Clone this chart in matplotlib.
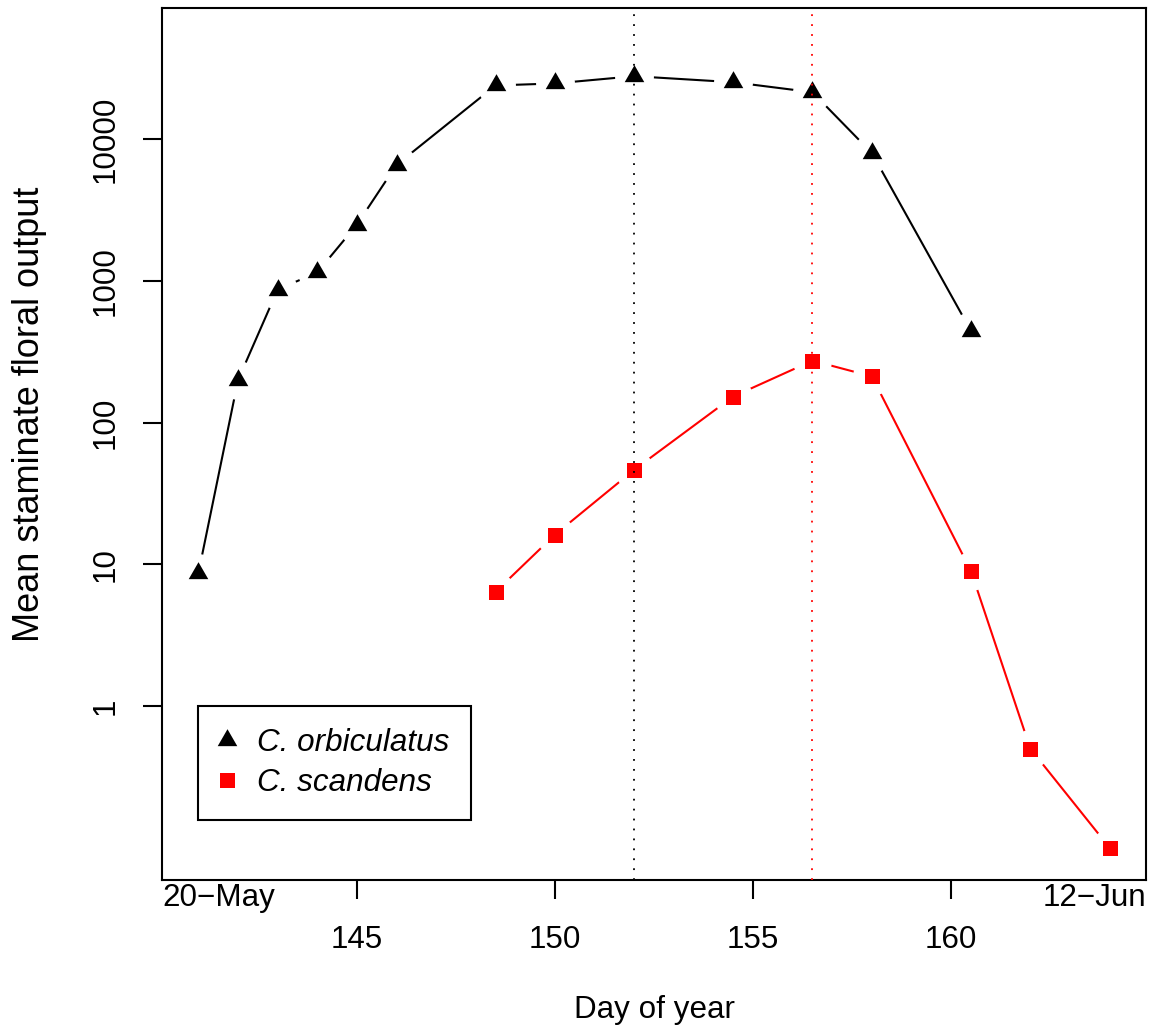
import matplotlib
matplotlib.use("Agg")
import matplotlib.pyplot as plt
from matplotlib.path import Path
from matplotlib.lines import Line2D
import numpy as np

plt.rcParams['font.family'] = ['Liberation Sans', 'DejaVu Sans']

# ---- data ----
day_orb = [141, 142, 143, 144, 145, 146, 148.5, 150, 152, 154.5, 156.5, 158, 160.5]
out_orb = [8.7, 200, 870, 1150, 2500, 6600, 24000, 24800, 27900, 25300, 21500, 8000, 445]
day_sca = [148.5, 150, 152, 154.5, 156.5, 158, 160.5, 162, 164]
out_sca = [6.4, 16.2, 46.5, 153, 274, 212, 9.0, 0.5, 0.1]
peak_orb = 152
peak_sca = 156.5
xticks = [145, 150, 155, 160]
yticks = [1, 10, 100, 1000, 10000]
ytick_labels = ["1", "10", "100", "1000", "10000"]
date_left = "20\u2212May"
date_right = "12\u2212Jun"
legend_labels = ["C. orbiculatus", "C. scandens"]
xlabel = "Day of year"
ylabel = "Mean staminate floral output"

W, H = 1163, 1033
fig = plt.figure(figsize=(W / 100, H / 100), dpi=100)
L, R, T, B = 162, 1146, 8, 880
ax = fig.add_axes([L / W, 1 - B / H, (R - L) / W, (B - T) / H])

FS = 22.6
FS_YLAB = 26.0
tri = Path([(0, 1), (-0.866, -0.5), (0.866, -0.5), (0, 1)],
           [Path.MOVETO, Path.LINETO, Path.LINETO, Path.CLOSEPOLY])
TRI_MS = 16.3
SQ_MS = 10.8
LW = 1.5

ax.set_yscale('log')
# R-style 4% extension
xr = max(max(day_orb), max(day_sca)) - min(min(day_orb), min(day_sca))
ax.set_xlim(min(day_orb) - 0.04 * xr, max(day_sca) + 0.04 * xr)
ylo, yhi = np.log10(0.1), np.log10(50000)
yr = yhi - ylo
ax.set_ylim(10 ** (ylo - 0.04 * yr), 10 ** (yhi + 0.04 * yr))

# lines
ax.plot(day_orb, out_orb, color='black', lw=LW, zorder=1)
ax.plot(day_sca, out_sca, color='red', lw=LW, zorder=1)
# gaps (type = "b")
ax.plot(day_orb, out_orb, 'o', ms=28, color='white', mew=0, zorder=2)
ax.plot(day_sca, out_sca, 'o', ms=28, color='white', mew=0, zorder=2)
# markers
ax.plot(day_orb, out_orb, ls='none', marker=tri, ms=TRI_MS, color='black', mew=0, zorder=3)
ax.plot(day_sca, out_sca, ls='none', marker='s', ms=SQ_MS, color='red', mew=0, zorder=3)
# peak lines
ax.axvline(peak_orb, color='black', lw=1.3, dashes=(1, 4.5), zorder=4)
ax.axvline(peak_sca, color='red', lw=1.3, dashes=(1, 4.5), zorder=4)

# axes styling
for s in ax.spines.values():
    s.set_linewidth(LW)
ax.minorticks_off()
ax.set_xticks(xticks, [str(v) for v in xticks])
ax.set_yticks(yticks, ytick_labels)
ax.yaxis.set_minor_locator(matplotlib.ticker.NullLocator())
ax.tick_params(axis='both', direction='out', length=13.6, width=LW, labelsize=FS)
ax.tick_params(axis='x', pad=18.5)
ax.tick_params(axis='y', pad=16, labelrotation=90)
for lab in ax.get_yticklabels():
    lab.set_verticalalignment('center')

ax.annotate(date_left, xy=(0, 0), xycoords='axes fraction', xytext=(0, -2.5),
            textcoords='offset points', ha='left', va='top', fontsize=FS)
ax.annotate(date_right, xy=(1, 0), xycoords='axes fraction', xytext=(0, -2.5),
            textcoords='offset points', ha='right', va='top', fontsize=FS)
ax.annotate(xlabel, xy=(0.5, 0), xycoords='axes fraction', xytext=(0, -130 * 0.72),
            textcoords='offset points', ha='center', va='center', fontsize=FS)
ax.annotate(ylabel, xy=(0, 0.5), xycoords='axes fraction', xytext=(-133 * 0.72, 30 * 0.72),
            textcoords='offset points', ha='center', va='center', fontsize=FS_YLAB,
            rotation=90)

handles = [Line2D([], [], ls='none', marker=tri, ms=TRI_MS, color='black', mew=0),
           Line2D([], [], ls='none', marker='s', ms=SQ_MS, color='red', mew=0)]
leg = ax.legend(handles, legend_labels, loc='upper left',
                bbox_to_anchor=((198 - L) / (R - L), (B - 706) / (B - T)),
                borderaxespad=0, fancybox=False, framealpha=1, edgecolor='black',
                prop={'size': FS, 'style': 'italic'}, borderpad=0.7,
                handlelength=0.45, handletextpad=0.72, labelspacing=0.33,
                numpoints=1)
leg.get_frame().set_linewidth(LW)
leg.set_zorder(5)

fig.savefig("out.png", dpi=100)
